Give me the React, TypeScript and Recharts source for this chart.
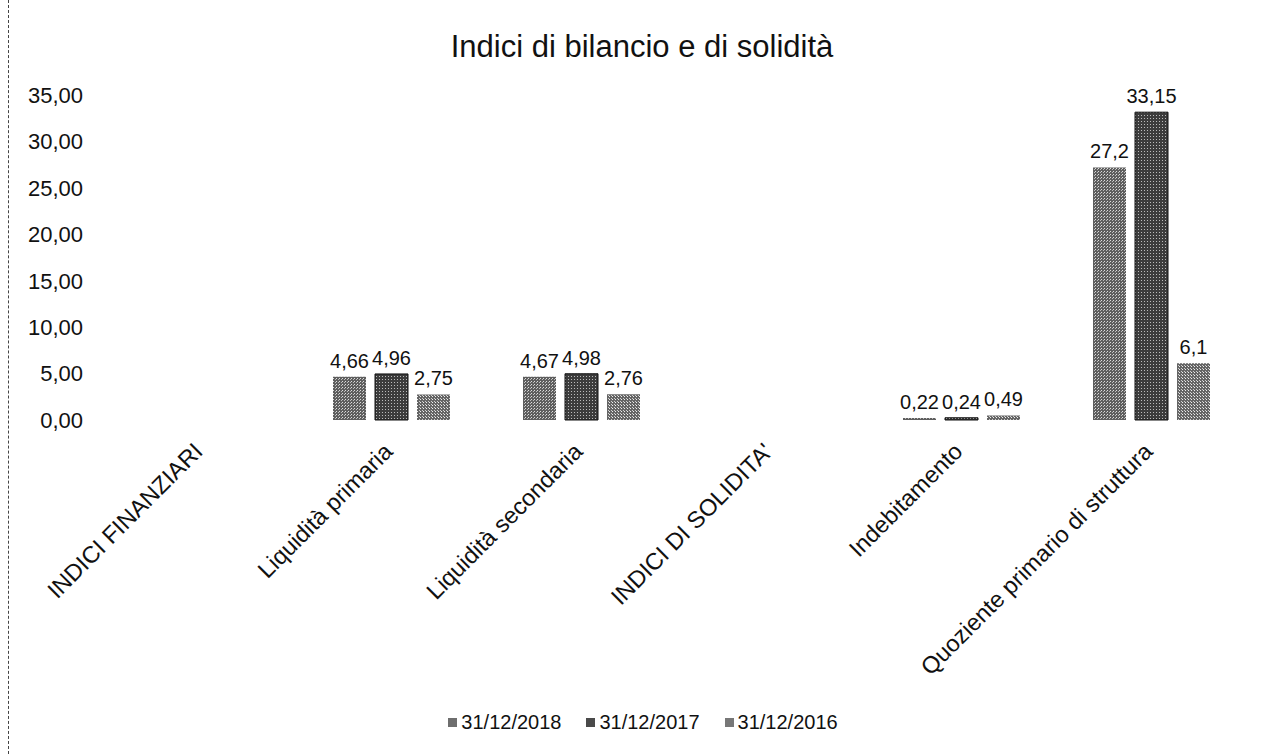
import React from "react";
import { BarChart, Bar, XAxis, YAxis, Legend, LabelList } from "recharts";

const categories = [
  "INDICI FINANZIARI",
  "Liquidità primaria",
  "Liquidità secondaria",
  "INDICI DI SOLIDITA'",
  "Indebitamento",
  "Quoziente primario di struttura",
];
const s2018 = [null, 4.66, 4.67, null, 0.22, 27.2];
const s2017 = [null, 4.96, 4.98, null, 0.24, 33.15];
const s2016 = [null, 2.75, 2.76, null, 0.49, 6.1];
const yTicks = [0, 5, 10, 15, 20, 25, 30, 35];

const series = [
  { key: "y2018", name: "31/12/2018", pattern: "p2018", swatch: "#6e6e6e" },
  { key: "y2017", name: "31/12/2017", pattern: "p2017", swatch: "#4a4a4a" },
  { key: "y2016", name: "31/12/2016", pattern: "p2016", swatch: "#777777" },
];

const data = categories.map((name, i) => ({
  name,
  y2018: s2018[i],
  y2017: s2017[i],
  y2016: s2016[i],
}));

const FONT = "'Liberation Sans', Arial, sans-serif";
const comma = (v: any) => (v == null ? "" : String(v).replace(".", ","));

function XTick({ x, y, payload }: any) {
  return (
    <g transform={`translate(${x + 2},${y + 25})`}>
      <text transform="rotate(-45)" textAnchor="end" fontFamily={FONT} fontSize={23.5} fill="#111">
        {payload.value}
      </text>
    </g>
  );
}

function LegendBox() {
  return (
    <div style={{ display: "flex", justifyContent: "center", gap: 25, fontFamily: FONT, fontSize: 20, color: "#111", paddingLeft: 30 }}>
      {series.map((s) => (
        <span key={s.key} style={{ display: "flex", alignItems: "center" }}>
          <span style={{ width: 9, height: 9, background: s.swatch, marginRight: 4, display: "inline-block" }} />
          {s.name}
        </span>
      ))}
    </div>
  );
}

export default function App() {
  return (
    <div
      style={{
        position: "fixed",
        left: 8,
        top: 0,
        width: 1261,
        height: 754,
        borderLeft: "1px dashed #444",
        background: "#fff",
      }}
    >
      <div
        style={{
          position: "absolute",
          top: 29,
          left: 0,
          width: 1266,
          textAlign: "center",
          fontFamily: FONT,
          fontSize: 31,
          color: "#111",
        }}
      >
        Indici di bilancio e di solidità
      </div>
      <BarChart
        width={1260}
        height={754}
        data={data}
        margin={{ top: 95, right: 22, left: 0, bottom: 20 }}
        barCategoryGap={36}
        barGap={9}
      >
        <defs>
          <pattern id="p2018" width="3" height="3" patternUnits="userSpaceOnUse">
            <rect width="3" height="3" fill="#5e5e5e" />
            <rect x="0" y="0" width="1" height="1" fill="#ddd" />
            <rect x="2" y="1" width="1" height="1" fill="#bbb" />
          </pattern>
          <pattern id="p2017" width="3" height="3" patternUnits="userSpaceOnUse">
            <rect width="3" height="3" fill="#3c3c3c" />
            <rect x="1" y="1" width="1" height="1" fill="#bbb" />
          </pattern>
          <pattern id="p2016" width="3" height="3" patternUnits="userSpaceOnUse">
            <rect width="3" height="3" fill="#656565" />
            <rect x="0" y="0" width="1" height="1" fill="#eee" />
            <rect x="2" y="2" width="1" height="1" fill="#ccc" />
          </pattern>
        </defs>
        <XAxis
          dataKey="name"
          axisLine={false}
          tickLine={false}
          interval={0}
          height={291}
          tick={<XTick />}
        />
        <YAxis
          domain={[0, 35]}
          ticks={yTicks}
          axisLine={false}
          tickLine={false}
          width={98}
          tickFormatter={(v: number) => v.toFixed(2).replace(".", ",")}
          tick={{ fontFamily: FONT, fontSize: 22, fill: "#111", dx: -16 }}
        />
        <Legend verticalAlign="bottom" content={<LegendBox />} />
        {series.map((s) => (
          <Bar
            key={s.key}
            dataKey={s.key}
            name={s.name}
            fill={`url(#${s.pattern})`}
            stroke={s.key === "y2017" ? "#111" : "none"}
            strokeWidth={1}
            isAnimationActive={false}
          >
            <LabelList
              dataKey={s.key}
              position="top"
              offset={9}
              formatter={comma}
              style={{ fontFamily: FONT, fontSize: 20, fill: "#111" }}
            />
          </Bar>
        ))}
      </BarChart>
    </div>
  );
}
